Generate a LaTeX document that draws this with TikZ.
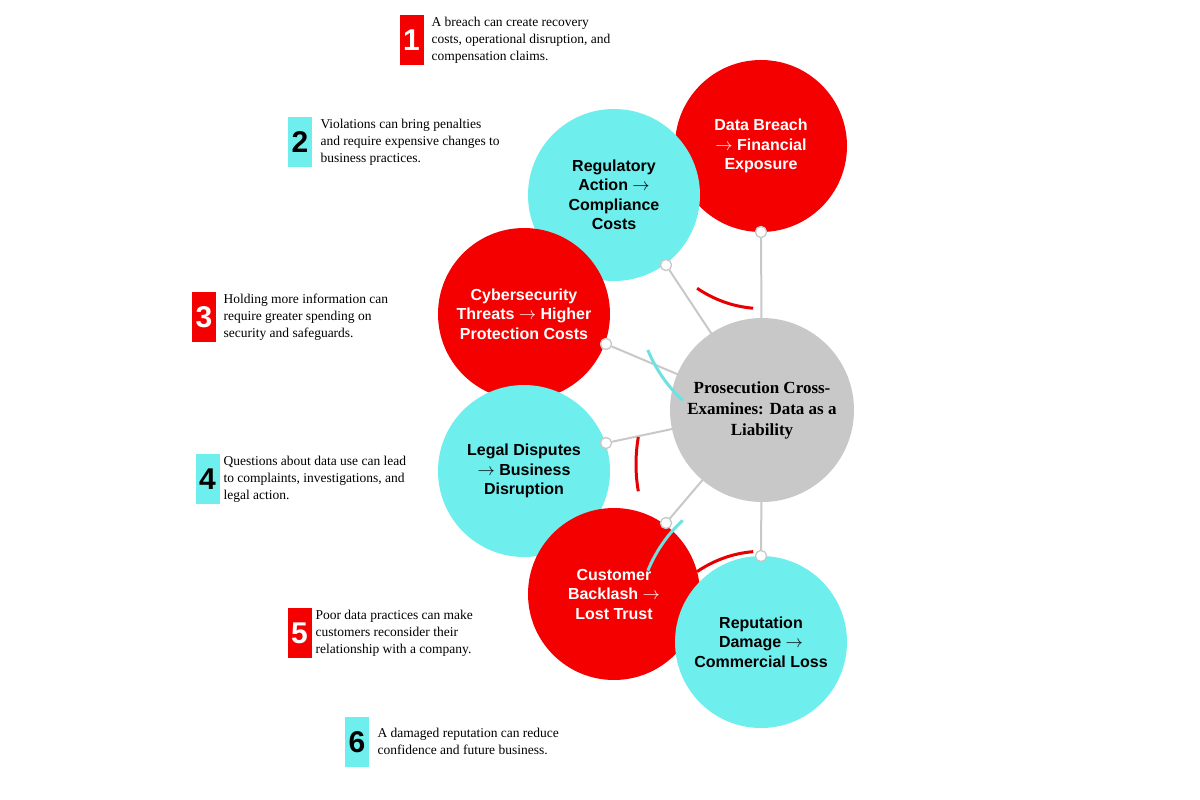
\documentclass[tikz,border=0pt]{standalone}
\usepackage{fontspec}
\setmainfont{Liberation Serif}
\newfontfamily\circfont{Liberation Sans}
\begin{document}
\begin{tikzpicture}[x=1pt,y=-1pt,
  red/.style={fill={rgb,255:red,245;green,0;blue,0},draw=none},
  cyan/.style={fill={rgb,255:red,110;green,238;blue,236},draw=none},
  big/.style={circle,minimum size=172pt,inner sep=0pt,align=center,font=\circfont\bfseries\fontsize{16}{19.5}\selectfont},
  dot/.style={circle,fill=white,draw={rgb,255:red,200;green,200;blue,200},line width=1.2pt,minimum size=11pt,inner sep=0pt},
  conn/.style={draw={rgb,255:red,200;green,200;blue,200},line width=2pt},
  num/.style={minimum width=24pt,minimum height=50pt,inner sep=0pt,font=\circfont\bfseries\fontsize{30}{30}\selectfont},
  desc/.style={anchor=west,align=left,font=\fontsize{13.5}{17}\selectfont},
  arcR/.style={draw={rgb,255:red,230;green,0;blue,0},line width=3pt},
  arcC/.style={draw={rgb,255:red,110;green,225;blue,225},line width=3pt}]
\useasboundingbox (0,0) rectangle (1200,800);
% outer circles
\node[big,red,text=white] (c1) at (761,146) {Data Breach\\$\rightarrow$ Financial\\Exposure};
\node[big,cyan] (c2) at (614,195) {Regulatory\\Action $\rightarrow$\\Compliance\\Costs};
\node[big,red,text=white] (c3) at (524,314) {Cybersecurity\\Threats $\rightarrow$ Higher\\Protection Costs};
\node[big,cyan] (c4) at (524,471) {Legal Disputes\\$\rightarrow$ Business\\Disruption};
\node[big,red,text=white] (c5) at (614,594) {Customer\\Backlash $\rightarrow$\\Lost Trust};
\node[big,cyan] (c6) at (761,642) {Reputation\\Damage $\rightarrow$\\Commercial Loss};
% center
\coordinate (cc) at (762,410);
\node[dot] (d1) at (761,232) {};
\node[dot] (d2) at (666,265) {};
\node[dot] (d3) at (606,344) {};
\node[dot] (d4) at (606,443) {};
\node[dot] (d5) at (666,523) {};
\node[dot] (d6) at (761,556) {};
\foreach \i in {1,...,6} \draw[conn] (d\i) -- (cc);
\foreach \i in {1,...,6} \node[dot] at (d\i) {};
\node[circle,minimum size=184pt,inner sep=0pt,fill={rgb,255:red,200;green,200;blue,200},align=center,font=\bfseries\fontsize{17}{21}\selectfont] (center) at (cc) {Prosecution Cross-\\Examines: Data as a\\Liability};
% arcs
\draw[arcR] ([shift={(94:126pt and -142pt)}]cc) arc[start angle=94,end angle=121,x radius=126,y radius=-142];
\draw[arcC] ([shift={(129:126pt and -142pt)}]cc) arc[start angle=129,end angle=155,x radius=126,y radius=-142];
\draw[arcR] ([shift={(169:126pt and -142pt)}]cc) arc[start angle=169,end angle=191,x radius=126,y radius=-142];
\draw[arcC] ([shift={(205:126pt and -142pt)}]cc) arc[start angle=205,end angle=231,x radius=126,y radius=-142];
\draw[arcR] ([shift={(239:126pt and -142pt)}]cc) arc[start angle=239,end angle=266,x radius=126,y radius=-142];
% numbers and descriptions
\node[num,red,text=white] (n1) at (411.5,40) {1};
\node[desc] (t1) at (428,40) {A breach can create recovery\\costs, operational disruption, and\\compensation claims.};
\node[num,cyan] (n2) at (300,142) {2};
\node[desc] (t2) at (317,142) {Violations can bring penalties\\and require expensive changes to\\business practices.};
\node[num,red,text=white] (n3) at (204,317) {3};
\node[desc] (t3) at (220,317) {Holding more information can\\require greater spending on\\security and safeguards.};
\node[num,cyan] (n4) at (207.5,479) {4};
\node[desc] (t4) at (220,479) {Questions about data use can lead\\to complaints, investigations, and\\legal action.};
\node[num,red,text=white] (n5) at (299.5,633) {5};
\node[desc] (t5) at (312,633) {Poor data practices can make\\customers reconsider their\\relationship with a company.};
\node[num,cyan] (n6) at (357,742) {6};
\node[desc] (t6) at (374,741) {A damaged reputation can reduce\\confidence and future business.};
\end{tikzpicture}
\end{document}
